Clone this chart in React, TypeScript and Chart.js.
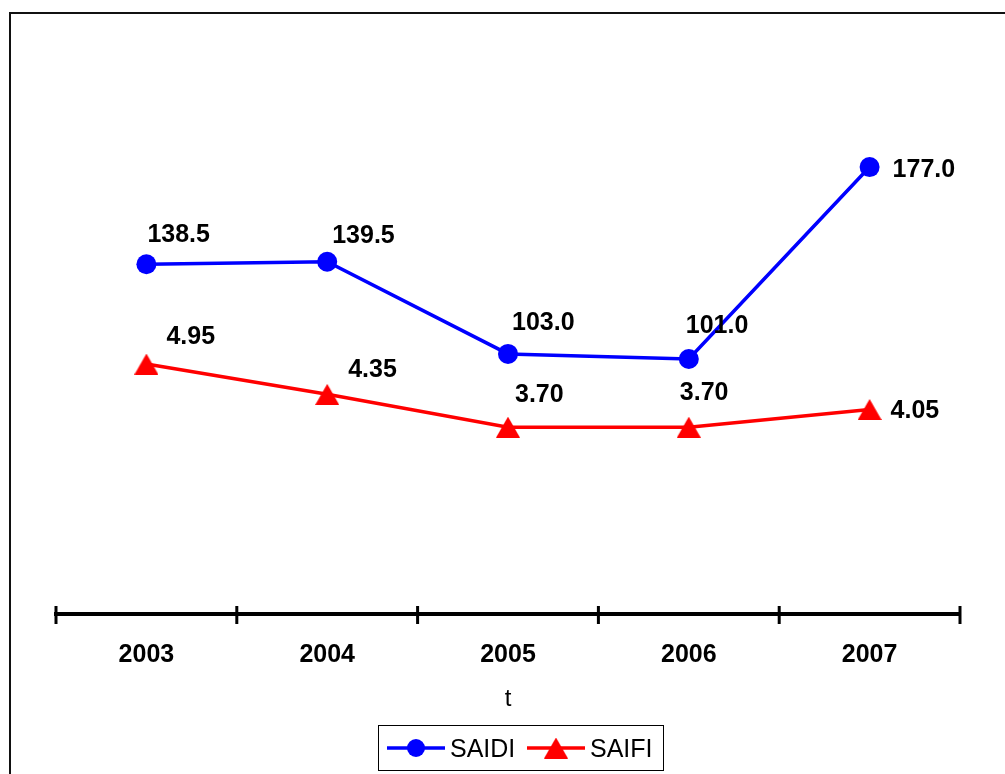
import { useEffect, useRef } from "react";
import { Chart, registerables } from "chart.js";

Chart.register(...registerables);

// Reliability indices per year
const years = ["2003", "2004", "2005", "2006", "2007"];
const saidi = [138.5, 139.5, 103.0, 101.0, 177.0];
const saifi = [4.95, 4.35, 3.7, 3.7, 4.05];

const FONT = "'Liberation Sans', Arial, Helvetica, sans-serif";

// Value label placement relative to each point (left edge of text, vertical centre)
const saidiLabelShift = [[1, -31], [5, -28], [4, -33], [-3, -35], [23, 1]];
const saifiLabelShift = [[20, -29], [21, -26], [7, -34], [-9, -36], [21, 0]];

function makeTriangle(color: string, w: number, h: number) {
  const c = document.createElement("canvas");
  c.width = w;
  c.height = h;
  const g = c.getContext("2d")!;
  g.fillStyle = color;
  g.beginPath();
  g.moveTo(w / 2, 0);
  g.lineTo(w, h);
  g.lineTo(0, h);
  g.closePath();
  g.fill();
  return c;
}

const framePlugin = {
  id: "frame",
  beforeDraw(chart: any) {
    const ctx = chart.ctx;
    ctx.save();
    ctx.fillStyle = "#ffffff";
    ctx.fillRect(0, 0, chart.width, chart.height);
    ctx.strokeStyle = "#111";
    ctx.lineWidth = 2;
    ctx.beginPath();
    ctx.moveTo(10, chart.height + 10);
    ctx.lineTo(10, 13);
    ctx.lineTo(chart.width + 10, 13);
    ctx.stroke();
    ctx.restore();
  },
};

const tickPlugin = {
  id: "categoryTicks",
  afterDraw(chart: any) {
    const { ctx, chartArea } = chart;
    const n = chart.data.labels.length;
    const y = chartArea.bottom;
    ctx.save();
    ctx.strokeStyle = "#000";
    ctx.lineWidth = 3;
    for (let i = 0; i <= n; i++) {
      const x = chartArea.left + ((chartArea.right - chartArea.left) * i) / n;
      ctx.beginPath();
      ctx.moveTo(x, y - 8);
      ctx.lineTo(x, y + 10);
      ctx.stroke();
    }
    ctx.restore();
  },
};

const valueLabelPlugin = {
  id: "valueLabels",
  afterDatasetsDraw(chart: any) {
    const ctx = chart.ctx;
    ctx.save();
    ctx.font = `bold 25px ${FONT}`;
    ctx.fillStyle = "#000";
    ctx.textAlign = "left";
    ctx.textBaseline = "alphabetic";
    chart.data.datasets.forEach((ds: any, di: number) => {
      const meta = chart.getDatasetMeta(di);
      const shifts = di === 0 ? saidiLabelShift : saifiLabelShift;
      const digits = di === 0 ? 1 : 2;
      meta.data.forEach((pt: any, i: number) => {
        const text = (ds.data[i] as number).toFixed(digits);
        const [dx, dy] = shifts[i];
        ctx.fillText(text, pt.x + dx, pt.y + dy + 9);
      });
    });
    ctx.restore();
  },
};

const legendPlugin = {
  id: "boxLegend",
  afterDraw(chart: any) {
    const ctx = chart.ctx;
    const boxX = 378.5;
    const boxY = 725.5;
    const boxW = 285;
    const boxH = 45;
    const cy = boxY + boxH / 2;
    ctx.save();
    ctx.fillStyle = "#fff";
    ctx.fillRect(boxX, boxY, boxW, boxH);
    ctx.strokeStyle = "#000";
    ctx.lineWidth = 1;
    ctx.strokeRect(boxX, boxY, boxW, boxH);
    const starts = [387, 527];
    chart.data.datasets.forEach((ds: any, di: number) => {
      const x0 = starts[di];
      ctx.strokeStyle = ds.borderColor;
      ctx.lineWidth = 3.5;
      ctx.beginPath();
      ctx.moveTo(x0, cy);
      ctx.lineTo(x0 + 58, cy);
      ctx.stroke();
      const mx = x0 + 29;
      if (di === 0) {
        ctx.fillStyle = ds.backgroundColor;
        ctx.beginPath();
        ctx.arc(mx, cy, 9, 0, Math.PI * 2);
        ctx.fill();
      } else {
        const img = ds.pointStyle as HTMLCanvasElement;
        ctx.drawImage(img, mx - img.width / 2, cy - img.height / 2);
      }
      ctx.fillStyle = "#000";
      ctx.font = `25px ${FONT}`;
      ctx.textAlign = "left";
      ctx.textBaseline = "alphabetic";
      ctx.fillText(ds.label, x0 + 63, cy + 9);
    });
    ctx.restore();
  },
};

export default function App() {
  const ref = useRef<HTMLCanvasElement>(null);

  useEffect(() => {
    document.body.style.margin = "0";
    document.body.style.overflow = "hidden";
    const triangle = makeTriangle("#FF0000", 24, 21);
    const chart = new Chart(ref.current!, {
      type: "line",
      data: {
        labels: years,
        datasets: [
          {
            label: "SAIDI",
            data: saidi,
            yAxisID: "y",
            borderColor: "#0000FF",
            backgroundColor: "#0000FF",
            borderWidth: 3.5,
            pointStyle: "circle",
            pointRadius: 10,
            pointBorderWidth: 0,
            tension: 0,
          },
          {
            label: "SAIFI",
            data: saifi,
            yAxisID: "y2",
            borderColor: "#FF0000",
            backgroundColor: "#FF0000",
            borderWidth: 3.5,
            pointStyle: triangle as any,
            pointRadius: 11,
            pointBorderWidth: 0,
            tension: 0,
          },
        ],
      },
      options: {
        responsive: false,
        animation: false,
        events: [],
        font: { family: FONT },
        layout: { padding: { left: 56, right: 45, top: 109, bottom: 0 } },
        plugins: {
          legend: { display: false },
          tooltip: { enabled: false },
          title: { display: false },
        },
        scales: {
          x: {
            type: "category",
            offset: true,
            grid: { display: false, drawTicks: false },
            border: { display: true, color: "#000", width: 4 },
            ticks: {
              padding: 26,
              color: "#000",
              font: { family: FONT, size: 25, weight: "bold" },
            },
            title: {
              display: true,
              text: "t",
              color: "#000",
              font: { family: FONT, size: 24 },
              padding: { top: 0, bottom: 60 },
            },
            afterFit: (s: any) => {
              s.height = 160;
            },
          },
          y: { display: false, min: 0, max: 200 },
          y2: { display: false, min: 0, max: 10 },
        },
      } as any,
      plugins: [framePlugin, tickPlugin, valueLabelPlugin, legendPlugin],
    });
    return () => chart.destroy();
  }, []);

  return (
    <div style={{ width: 1005, height: 774, overflow: "hidden" }}>
      <canvas ref={ref} width={1005} height={774} style={{ display: "block" }} />
    </div>
  );
}
